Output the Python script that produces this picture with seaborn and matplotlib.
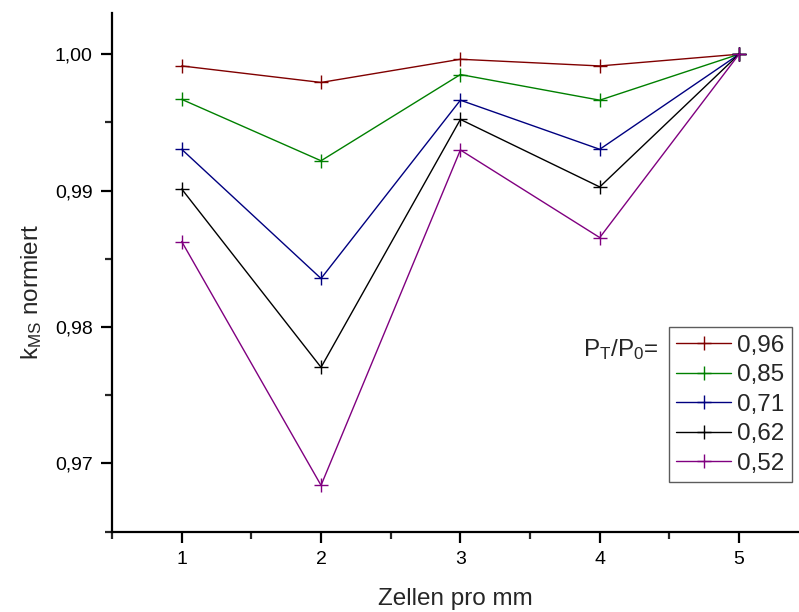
import matplotlib
matplotlib.use("Agg")
import matplotlib.pyplot as plt
import seaborn as sns
import pandas as pd
from matplotlib.ticker import MultipleLocator, FuncFormatter

zellen = [1, 2, 3, 4, 5]
series_labels = ["0,96", "0,85", "0,71", "0,62", "0,52"]
k_096 = [0.99914, 0.99793, 0.99963, 0.99914, 1.0000]
k_085 = [0.99669, 0.99219, 0.99851, 0.99663, 1.0000]
k_071 = [0.99303, 0.98356, 0.99663, 0.99303, 1.0000]
k_062 = [0.99012, 0.97705, 0.99522, 0.99027, 1.0000]
k_052 = [0.98627, 0.96840, 0.99298, 0.98656, 1.0000]
colors = ["#800000", "#008000", "#000080", "#000000", "#800080"]

rows = []
for lab, vals in zip(series_labels, [k_096, k_085, k_071, k_062, k_052]):
    for x, v in zip(zellen, vals):
        rows.append({"Zellen": x, "k": v, "PT": lab})
df = pd.DataFrame(rows)

sns.set_style("ticks")
plt.rcParams["font.family"] = ["Liberation Sans", "DejaVu Sans"]
plt.rcParams["mathtext.fontset"] = "custom"
plt.rcParams["mathtext.rm"] = "Liberation Sans"
plt.rcParams["mathtext.it"] = "Liberation Sans:italic"

fig = plt.figure(figsize=(7.99, 6.12), dpi=100)
ax = fig.add_axes([0.1402, 0.1312, 0.8598, 0.8471])

sns.lineplot(data=df, x="Zellen", y="k", hue="PT", hue_order=series_labels,
             palette=colors, marker="+", markersize=10, markeredgewidth=1.0,
             linewidth=1.0, ax=ax, legend=True)
for ln in ax.lines:
    ln.set_markeredgecolor(ln.get_color())

ax.set_xlim(0.5, 5.43)
ax.set_ylim(0.965, 1.003)
ax.xaxis.set_major_locator(MultipleLocator(1))
ax.xaxis.set_minor_locator(MultipleLocator(0.5))
ax.yaxis.set_major_locator(MultipleLocator(0.01))
ax.yaxis.set_minor_locator(MultipleLocator(0.005))
ax.xaxis.set_major_formatter(FuncFormatter(lambda v, p: f"{v:.0f}"))
ax.yaxis.set_major_formatter(FuncFormatter(lambda v, p: f"{v:.2f}".replace(".", ",")))

for s in ["top", "right"]:
    ax.spines[s].set_visible(False)
for s in ["left", "bottom"]:
    ax.spines[s].set_linewidth(1.6)
    ax.spines[s].set_color("black")
ax.tick_params(which="major", direction="out", length=8, width=1.6, labelsize=14, pad=6, colors="black")
ax.tick_params(which="minor", direction="out", length=5, width=1.6)

ax.set_xlabel("Zellen pro mm", fontsize=17.5, labelpad=14)
ax.set_ylabel(r"k$_\mathrm{MS}$ normiert", fontsize=17.5)
ax.yaxis.set_label_coords((44 - 112) / 687, (531.7 - 292.5) / 518.4)

handles, labels = ax.get_legend_handles_labels()
for h in handles:
    h.set_markeredgecolor(h.get_color())
leg = ax.legend(handles, labels, loc="upper left",
                bbox_to_anchor=((669 - 112) / 687, (531.7 - 327.3) / 518.4),
                fontsize=17.5, frameon=True, fancybox=False, edgecolor="#333333",
                handlelength=2.26, handletextpad=0.25, labelspacing=0.31,
                borderpad=0.3, borderaxespad=0.0)
leg.get_frame().set_linewidth(1.0)
fig.text(659 / 799, 1 - 356 / 612, r"P$_\mathrm{T}$/P$_\mathrm{0}$=", fontsize=17.5,
         ha="right", va="baseline")

fig.savefig("out.png", dpi=100)
